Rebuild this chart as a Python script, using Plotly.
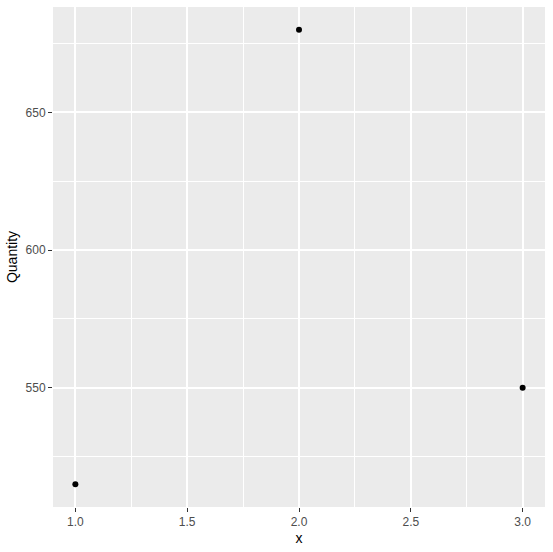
import plotly.graph_objects as go

x_vals = [1, 2, 3]
quantity = [515, 680, 550]

fig = go.Figure()
fig.add_trace(go.Scatter(
    x=x_vals, y=quantity, mode="markers",
    marker=dict(color="black", size=6),
    showlegend=False,
))

axis_common = dict(
    showline=False, zeroline=False,
    gridcolor="white", gridwidth=1.6,
    ticks="outside", ticklen=4, tickwidth=1, tickcolor="#333333",
    tickfont=dict(family="Liberation Sans, Arial, sans-serif", size=12, color="#4d4d4d"),
    title_font=dict(family="Liberation Sans, Arial, sans-serif", size=14, color="black"),
)

fig.update_xaxes(
    **axis_common,
    range=[0.9, 3.1], tickvals=[1.0, 1.5, 2.0, 2.5, 3.0],
    ticktext=["1.0", "1.5", "2.0", "2.5", "3.0"],
    minor=dict(tickvals=[1.25, 1.75, 2.25, 2.75], showgrid=True, gridcolor="white", gridwidth=0.8, ticks=""),
    title_text="x", title_standoff=4,
)
fig.update_yaxes(
    **axis_common,
    range=[506.75, 688.25], tickvals=[550, 600, 650],
    minor=dict(tickvals=[525, 575, 625, 675], showgrid=True, gridcolor="white", gridwidth=0.8, ticks=""),
    title_text="Quantity", title_standoff=4,
)

fig.update_layout(
    width=553, height=552,
    margin=dict(l=53, r=8, t=7, b=45),
    plot_bgcolor="#ebebeb", paper_bgcolor="white",
    font=dict(family="Liberation Sans, Arial, sans-serif"),
)

fig.write_html("out.html", config={"displayModeBar": False},
               post_script="document.body.style.margin='0';")
